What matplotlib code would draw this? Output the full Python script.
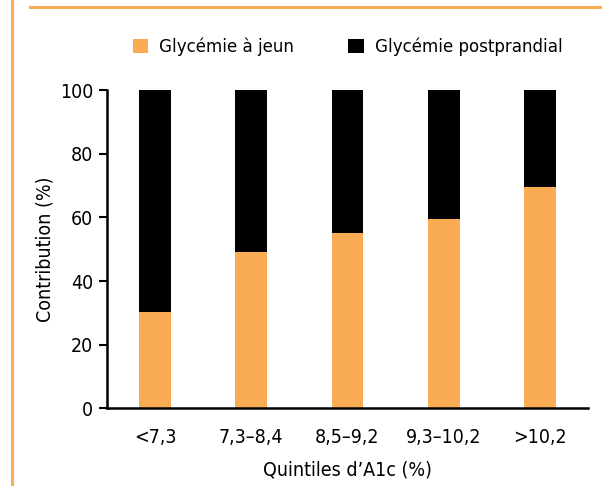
import matplotlib.pyplot as plt
from matplotlib.lines import Line2D

# Données
quintiles = ['<7,3', '7,3–8,4', '8,5–9,2', '9,3–10,2', '>10,2']
jeun = [30.2, 49.0, 55.1, 59.4, 69.5]
postprandial = [100 - v for v in jeun]
series = ['Glycémie à jeun', 'Glycémie postprandial']

orange = '#FAAC55'
noir = '#000000'

plt.rcParams['font.family'] = ['Liberation Sans Narrow', 'DejaVu Sans']
plt.rcParams['font.stretch'] = 'condensed'

fig = plt.figure(figsize=(6.09, 4.86), dpi=100)
ax = fig.add_axes([0.1757, 0.1595, 0.7898, 0.6553])

x = range(len(quintiles))
ax.bar(x, jeun, width=0.33, color=orange, label=series[0])
ax.bar(x, postprandial, width=0.33, bottom=jeun, color=noir, label=series[1])

ax.set_xlim(-0.5, 4.5)
ax.set_ylim(0, 100)
ax.set_yticks(range(0, 101, 20))
ax.set_xticks(list(x))
ax.set_xticklabels(quintiles, fontsize=14)
ax.tick_params(axis='x', length=0, pad=14)
ax.tick_params(axis='y', length=6, width=1.5, labelsize=14, pad=4)
for s in ['top', 'right']:
    ax.spines[s].set_visible(False)
for s in ['left', 'bottom']:
    ax.spines[s].set_linewidth(1.8)

ax.set_xlabel("Quintiles d’A1c (%)", fontsize=14, labelpad=10)
ax.set_ylabel("Contribution (%)", fontsize=14, labelpad=4)

ax.legend(loc='center', bbox_to_anchor=(0.5, 1.135), ncol=2, frameon=False,
          fontsize=13.3, handlelength=0.85, handleheight=0.85, handletextpad=0.6,
          columnspacing=2.9)

# cadre orange
fig.add_artist(Line2D([12 / 609, 12 / 609], [0, 1], color=orange, lw=2.2))
fig.add_artist(Line2D([30 / 609, 600 / 609], [1 - 7 / 486, 1 - 7 / 486],
                      color=orange, lw=2.2))

fig.savefig('out.png', dpi=100)
